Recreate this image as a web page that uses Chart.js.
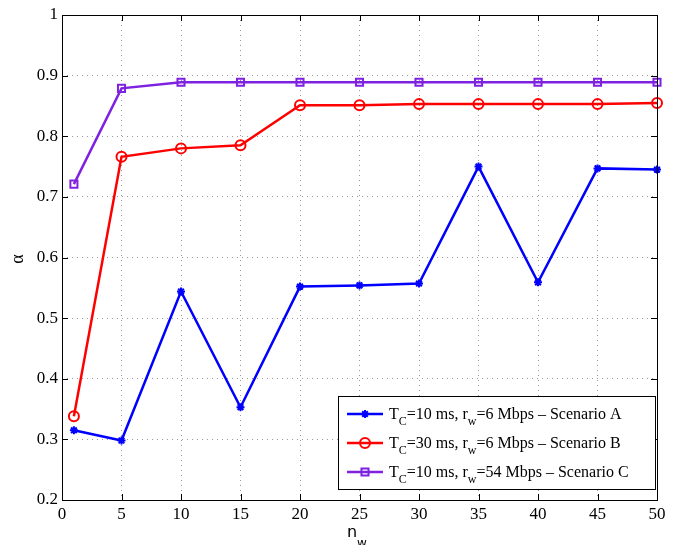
<!DOCTYPE html>
<html>
<head>
<meta charset="utf-8">
<script src="https://cdn.jsdelivr.net/npm/chart.js@4"></script>
<style>
    html, body { margin: 0; padding: 0; background: #fff; }
    #wrap { width: 680px; height: 545px; }
</style>
</head>
<body>
<div id="wrap"><canvas id="c" width="680" height="545"></canvas></div>
<script>
const nw = [1, 5, 10, 15, 20, 25, 30, 35, 40, 45, 50];
const scenarioA = [0.315, 0.298, 0.544, 0.353, 0.552, 0.554, 0.557, 0.750, 0.559, 0.747, 0.745];
const scenarioB = [0.338, 0.766, 0.780, 0.785, 0.851, 0.851, 0.853, 0.853, 0.853, 0.853, 0.855];
const scenarioC = [0.721, 0.879, 0.889, 0.889, 0.889, 0.889, 0.889, 0.889, 0.889, 0.889, 0.889];
const xTicks = [0, 5, 10, 15, 20, 25, 30, 35, 40, 45, 50];
const yTicks = [0.2, 0.3, 0.4, 0.5, 0.6, 0.7, 0.8, 0.9, 1];
const legendRows = [
    {T: 'C', a: '=10 ms, r', s: 'w', b: '=6 Mbps \u2013 Scenario A'},
    {T: 'C', a: '=30 ms, r', s: 'w', b: '=6 Mbps \u2013 Scenario B'},
    {T: 'C', a: '=10 ms, r', s: 'w', b: '=54 Mbps \u2013 Scenario C'}
];

const FONT = '"Liberation Serif", "Times New Roman", serif';
const BLUE = '#0000ff', RED = '#ff0000', PURPLE = '#7f22e0';

function pts(vals) {
    return vals.map((v, i) => ({x: nw[i], y: v}));
}

// frame, inward ticks, titles and legend (MATLAB look)
const matlabBits = {
    id: 'matlabBits',
    afterDatasetsDraw(chart) {
        const ctx = chart.ctx;
        const a = chart.chartArea;
        const xs = chart.scales.x, ys = chart.scales.y;
        ctx.save();
        ctx.strokeStyle = '#000';
        ctx.lineWidth = 1;
        ctx.strokeRect(Math.round(a.left) + 0.5, Math.round(a.top) + 0.5,
            Math.round(a.right - a.left), Math.round(a.bottom - a.top));
        ctx.beginPath();
        xTicks.forEach(t => {
            const px = Math.round(xs.getPixelForValue(t)) + 0.5;
            ctx.moveTo(px, a.bottom); ctx.lineTo(px, a.bottom - 6);
            ctx.moveTo(px, a.top); ctx.lineTo(px, a.top + 6);
        });
        yTicks.forEach(t => {
            const py = Math.round(ys.getPixelForValue(t)) + 0.5;
            ctx.moveTo(a.left, py); ctx.lineTo(a.left + 6, py);
            ctx.moveTo(a.right, py); ctx.lineTo(a.right - 6, py);
        });
        ctx.stroke();

        // axis titles
        ctx.fillStyle = '#000';
        ctx.textBaseline = 'alphabetic';
        ctx.textAlign = 'left';
        ctx.font = '16px "DejaVu Sans", sans-serif';
        ctx.fillText('n', 347, 537);
        ctx.font = '12px "DejaVu Sans", sans-serif';
        ctx.fillText('w', 357, 547);
        ctx.save();
        ctx.translate(23, 259);
        ctx.rotate(-Math.PI / 2);
        ctx.textAlign = 'center';
        ctx.font = '18px ' + FONT;
        ctx.fillText('\u03b1', 0, 0);
        ctx.restore();

        // legend
        const lx = 338, ly = 396, lw = 317, lh = 93;
        ctx.fillStyle = '#fff';
        ctx.fillRect(lx, ly, lw, lh);
        ctx.strokeStyle = '#000';
        ctx.lineWidth = 1;
        ctx.strokeRect(lx + 0.5, ly + 0.5, lw, lh);
        chart.data.datasets.forEach((ds, i) => {
            const cy = ly + 18 + i * 29;
            ctx.strokeStyle = ds.borderColor;
            ctx.lineWidth = 2.5;
            ctx.beginPath();
            ctx.moveTo(347, cy); ctx.lineTo(383, cy);
            ctx.stroke();
            ctx.fillStyle = ds.pointBackgroundColor;
            ctx.lineWidth = ds.pointBorderWidth;
            Chart.helpers.drawPoint(ctx, {
                pointStyle: ds.pointStyle, radius: ds.pointRadius, rotation: 0,
                borderWidth: ds.pointBorderWidth
            }, 365, cy);
            ctx.fillStyle = '#000';
            ctx.font = '16px ' + FONT;
            ctx.textAlign = 'left';
            ctx.textBaseline = 'alphabetic';
            const r = legendRows[i];
            let x = 389;
            const base = cy + 5;
            ctx.fillText('T', x, base); x += ctx.measureText('T').width;
            ctx.font = '12px ' + FONT;
            ctx.fillText(r.T, x, base + 6); x += ctx.measureText(r.T).width;
            ctx.font = '16px ' + FONT;
            ctx.fillText(r.a, x, base); x += ctx.measureText(r.a).width;
            ctx.font = '12px ' + FONT;
            ctx.fillText(r.s, x, base + 6); x += ctx.measureText(r.s).width;
            ctx.font = '16px ' + FONT;
            ctx.fillText(r.b, x, base);
        });
        ctx.restore();
    }
};

function series(vals, color, style, radius) {
    return {
        data: pts(vals),
        borderColor: color,
        backgroundColor: 'rgba(0,0,0,0)',
        borderWidth: 2.5,
        pointStyle: style,
        pointRadius: radius,
        pointBorderWidth: 2,
        pointBorderColor: color,
        pointBackgroundColor: style === 'star' ? color : 'rgba(0,0,0,0)',
        tension: 0
    };
}

new Chart(document.getElementById('c'), {
    type: 'line',
    data: {
        datasets: [
            series(scenarioA, BLUE, 'star', 4),
            series(scenarioB, RED, 'circle', 5),
            series(scenarioC, PURPLE, 'rect', 5)
        ]
    },
    options: {
        responsive: false,
        animation: false,
        clip: false,
        layout: {padding: {top: 15, right: 23, left: 0, bottom: 0}},
        plugins: {legend: {display: false}, tooltip: {enabled: false}},
        scales: {
            x: {
                type: 'linear', min: 0, max: 50,
                afterBuildTicks: s => { s.ticks = xTicks.map(v => ({value: v})); },
                afterFit: s => { s.height = 45; },
                grid: {color: '#999', lineWidth: 1, drawTicks: false},
                border: {display: false, dash: [1, 4]},
                ticks: {color: '#000', font: {family: FONT, size: 17}, padding: 4, maxRotation: 0}
            },
            y: {
                type: 'linear', min: 0.2, max: 1,
                afterBuildTicks: s => { s.ticks = yTicks.map(v => ({value: v})); },
                afterFit: s => { s.width = 62; },
                grid: {color: '#999', lineWidth: 1, drawTicks: false},
                border: {display: false, dash: [1, 4]},
                ticks: {color: '#000', font: {family: FONT, size: 17}, padding: 4,
                    callback: v => (v === 1 ? '1' : v.toFixed(1))}
            }
        }
    },
    plugins: [matlabBits]
});
</script>
</body>
</html>
